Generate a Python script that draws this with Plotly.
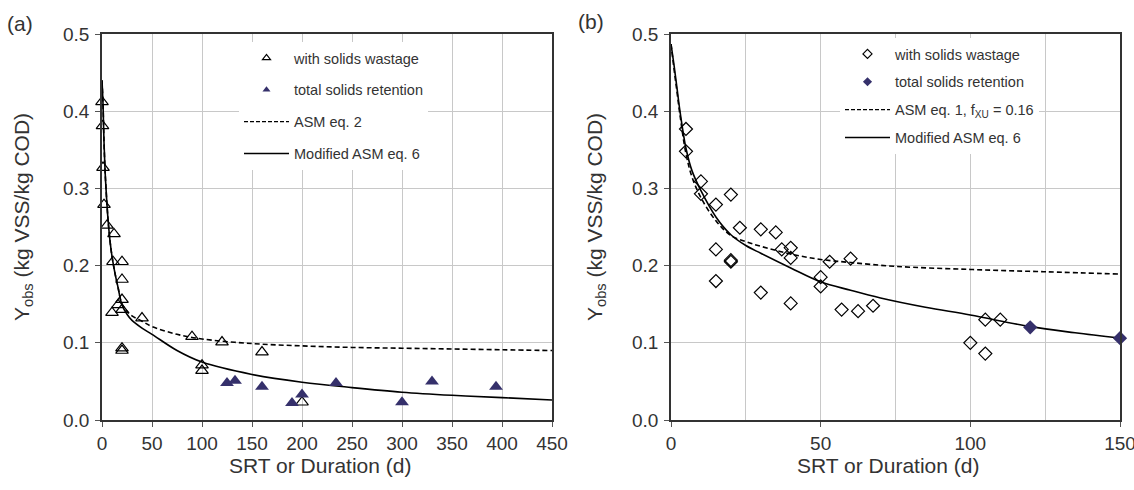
import plotly.graph_objects as go

# ---- panel (a) data ----
a_wast_x = [0, 0.5, 1, 2, 5, 12, 11, 20, 20, 20, 16, 10, 20, 20, 20, 40, 90, 120, 160, 100, 100, 200]
a_wast_y = [0.412, 0.381, 0.327, 0.279, 0.252, 0.241, 0.205, 0.205, 0.182, 0.156, 0.149, 0.139, 0.143,
            0.093, 0.090, 0.132, 0.108, 0.101, 0.088, 0.071, 0.064, 0.023]
a_ret_x = [125, 133, 160, 190, 200, 234, 300, 330, 394]
a_ret_y = [0.048, 0.051, 0.043, 0.022, 0.033, 0.048, 0.023, 0.050, 0.043]

a_curve_x = [0, 1, 2, 3, 4, 6, 8, 10, 13, 16, 20, 25, 30, 40, 50, 75, 100, 150, 200, 250, 300, 350, 400, 450]
a_asm_y = [0.44, 0.41, 0.36, 0.325, 0.30, 0.26, 0.232, 0.212, 0.19, 0.172, 0.150, 0.141, 0.135, 0.128,
           0.121, 0.111, 0.105, 0.099, 0.096, 0.094, 0.093, 0.092, 0.091, 0.090]
a_mod_y = [0.44, 0.41, 0.36, 0.325, 0.30, 0.26, 0.232, 0.212, 0.19, 0.172, 0.149, 0.137, 0.129, 0.119,
           0.111, 0.090, 0.075, 0.059, 0.049, 0.042, 0.036, 0.032, 0.029, 0.026]

# ---- panel (b) data ----
b_wast_x = [5, 5, 10, 10, 15, 20, 23, 30, 35, 15, 20, 20, 15, 30, 37, 40, 40, 40, 53, 60, 50, 50, 57,
            62.5, 67.5, 105, 110, 100, 105]
b_wast_y = [0.377, 0.348, 0.309, 0.293, 0.279, 0.292, 0.249, 0.247, 0.243, 0.221, 0.207, 0.205, 0.180,
            0.165, 0.221, 0.223, 0.210, 0.151, 0.205, 0.209, 0.185, 0.173, 0.143, 0.141, 0.148, 0.130,
            0.130, 0.100, 0.086]
b_ret_x = [120, 150]
b_ret_y = [0.120, 0.106]

b_curve_x = [0, 1, 2, 3, 5, 7, 10, 15, 20, 25, 30, 40, 50, 60, 75, 100, 125, 150]
b_asm_y = [0.487, 0.455, 0.425, 0.395, 0.345, 0.315, 0.288, 0.258, 0.239, 0.231, 0.225, 0.215, 0.208,
           0.204, 0.199, 0.195, 0.192, 0.189]
b_mod_x = [0, 1, 2, 3, 5, 7, 10, 15, 20, 25, 30, 40, 50, 60, 70, 85, 100, 120, 135, 150]
b_mod_y = [0.487, 0.46, 0.43, 0.40, 0.352, 0.323, 0.297, 0.263, 0.240, 0.226, 0.216, 0.197, 0.179,
           0.168, 0.158, 0.146, 0.136, 0.121, 0.113, 0.106]

NAVY = '#35306b'
FONT = 'Liberation Sans, Arial, sans-serif'
W, H = 1134, 490

fig = go.Figure()

# panel (a) curves + points
fig.add_trace(go.Scatter(x=a_curve_x, y=a_asm_y, mode='lines', line=dict(color='black', width=1.6, dash='5px,3px'),
                         line_shape='spline', showlegend=False, xaxis='x', yaxis='y'))
fig.add_trace(go.Scatter(x=a_curve_x, y=a_mod_y, mode='lines', line=dict(color='black', width=1.6),
                         line_shape='spline', showlegend=False, xaxis='x', yaxis='y'))
fig.add_trace(go.Scatter(x=a_wast_x, y=a_wast_y, mode='markers', cliponaxis=False,
                         marker=dict(symbol='triangle-up-open', size=11, color='black', line=dict(width=1.2)),
                         showlegend=False, xaxis='x', yaxis='y'))
fig.add_trace(go.Scatter(x=a_ret_x, y=a_ret_y, mode='markers', cliponaxis=False,
                         marker=dict(symbol='triangle-up', size=12, color=NAVY),
                         showlegend=False, xaxis='x', yaxis='y'))

# panel (b) curves + points
fig.add_trace(go.Scatter(x=b_curve_x, y=b_asm_y, mode='lines', line=dict(color='black', width=1.6, dash='5px,3px'),
                         line_shape='spline', showlegend=False, xaxis='x2', yaxis='y2'))
fig.add_trace(go.Scatter(x=b_mod_x, y=b_mod_y, mode='lines', line=dict(color='black', width=1.6),
                         line_shape='spline', showlegend=False, xaxis='x2', yaxis='y2'))
fig.add_trace(go.Scatter(x=b_wast_x, y=b_wast_y, mode='markers', cliponaxis=False,
                         marker=dict(symbol='diamond-open', size=10, color='black', line=dict(width=1.2)),
                         showlegend=False, xaxis='x2', yaxis='y2'))
fig.add_trace(go.Scatter(x=b_ret_x, y=b_ret_y, mode='markers', cliponaxis=False,
                         marker=dict(symbol='diamond', size=11, color=NAVY),
                         showlegend=False, xaxis='x2', yaxis='y2'))

# legend entries (small symbols like the original)
def leg(name, lg, grp, **kw):
    fig.add_trace(go.Scatter(x=[None], y=[None], name=name, legend=lg, legendgroup=grp, **kw))

leg('with solids wastage', 'legend', 'a1', mode='markers',
    marker=dict(symbol='triangle-up-open', size=7, color='black', line=dict(width=1.2)))
leg('total solids retention', 'legend', 'a2', mode='markers', marker=dict(symbol='triangle-up', size=7, color=NAVY))
leg('ASM eq. 2', 'legend', 'a3', mode='lines', line=dict(color='black', width=1.4, dash='4px,2px'))
leg('Modified ASM eq. 6', 'legend', 'a4', mode='lines', line=dict(color='black', width=1.4))

leg('with solids wastage', 'legend2', 'b1', mode='markers',
    marker=dict(symbol='diamond-open', size=7, color='black', line=dict(width=1.2)))
leg('total solids retention', 'legend2', 'b2', mode='markers', marker=dict(symbol='diamond', size=7, color=NAVY))
leg('ASM eq. 1, f<sub>XU</sub> = 0.16', 'legend2', 'b3', mode='lines',
    line=dict(color='black', width=1.4, dash='4px,2px'))
leg('Modified ASM eq. 6', 'legend2', 'b4', mode='lines', line=dict(color='black', width=1.4))

ax_common = dict(showline=True, linecolor='#333', linewidth=1.6, mirror=True, ticks='outside',
                 ticklen=5, tickcolor='#555', gridcolor='#c8c8c8', gridwidth=1, zeroline=False,
                 tickfont=dict(size=19, color='#333', family=FONT), automargin=False,
                 ticklabeloverflow='allow')

ya, yb = (490 - 420) / H, (490 - 34) / H
fig.update_layout(
    width=W, height=H, margin=dict(l=0, r=0, t=0, b=0),
    paper_bgcolor='white', plot_bgcolor='white', font=dict(family=FONT, color='#333'),
    xaxis=dict(domain=[102 / W, 552 / W], range=[0, 450], dtick=50, anchor='y', **ax_common),
    yaxis=dict(domain=[ya, yb], range=[0, 0.5], dtick=0.1, tickformat='.1f', anchor='x',
               ticklabelstandoff=2, **ax_common),
    xaxis2=dict(domain=[671 / W, 1120 / W], range=[0, 150], tickvals=[0, 50, 100, 150], anchor='y2',
                minor=dict(dtick=25, showgrid=True, gridcolor='#c8c8c8', ticks=''), **ax_common),
    yaxis2=dict(domain=[ya, yb], range=[0, 0.5], dtick=0.1, tickformat='.1f', anchor='x2',
                ticklabelstandoff=2, **ax_common),
    legend=dict(x=239 / W, y=1 - 42 / H, xanchor='left', yanchor='top', bgcolor='white',
                font=dict(size=14.5, color='#333'), tracegroupgap=10, itemwidth=45),
    legend2=dict(x=840 / W, y=1 - 38 / H, xanchor='left', yanchor='top', bgcolor='white',
                 font=dict(size=14.5, color='#333'), tracegroupgap=6, itemwidth=45),
)

ann = dict(showarrow=False, xref='paper', yref='paper', xanchor='center', yanchor='middle',
           font=dict(size=21, color='#333', family=FONT))
fig.add_annotation(text='(a)', x=20 / W, y=1 - 23 / H, **ann)
fig.add_annotation(text='(b)', x=591 / W, y=1 - 22 / H, **ann)
fig.add_annotation(text='Y<sub>obs</sub> (kg VSS/kg COD)', x=23 / W, y=1 - 217 / H, textangle=-90, **ann)
fig.add_annotation(text='Y<sub>obs</sub> (kg VSS/kg COD)', x=596 / W, y=1 - 217 / H, textangle=-90, **ann)
fig.add_annotation(text='SRT or Duration (d)', x=320 / W, y=1 - 465 / H, **ann)
fig.add_annotation(text='SRT or Duration (d)', x=888 / W, y=1 - 465 / H, **ann)

fig.write_html('out.html', config={'displayModeBar': False},
               post_script="document.body.style.margin='0';document.body.style.overflow='hidden';")
